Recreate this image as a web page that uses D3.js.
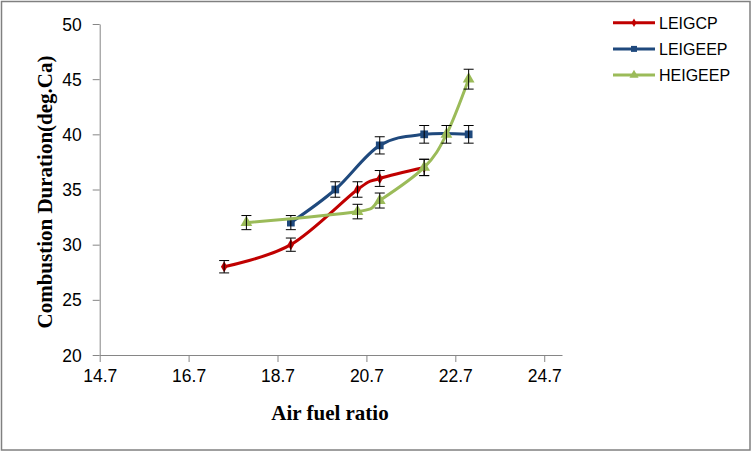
<!DOCTYPE html>
<html>
<head>
<meta charset="utf-8">
<script src="https://cdn.jsdelivr.net/npm/d3@7"></script>
<style>
  body { margin: 0; background: #fff; }
  .tick text { font-family: "Liberation Sans", Arial, sans-serif; font-size: 17.5px; fill: #000; }
  .axis-title { font-family: "Liberation Serif", "Times New Roman", serif; font-weight: bold; font-size: 21px; }
  .legend text { font-family: "Liberation Sans", Arial, sans-serif; font-size: 16px; }
</style>
</head>
<body>
<div class="canvas"></div>
<script>
// data
const seriesNames = ['LEIGCP', 'LEIGEEP', 'HEIGEEP'];
const leigcpX = [17.5, 19, 20.5, 21, 22];
const leigcpY = [28, 30, 35, 36, 37];
const leigeepX = [19, 20, 21, 22, 23];
const leigeepY = [32, 35, 39, 40, 40];
const heigeepX = [18, 20.5, 21, 22, 22.5, 23];
const heigeepY = [32, 33, 34, 37, 40, 45];
const xTicks = [14.7, 16.7, 18.7, 20.7, 22.7, 24.7];
const yTicks = [20, 25, 30, 35, 40, 45, 50];
const errorPercent = 2; // percentage error bars

const colors = ['#C00000', '#1F497D', '#9BBB59'];
const symbols = [d3.symbolDiamond, d3.symbolSquare, d3.symbolTriangle];
const symbolSizes = [36, 60, 60];

const width = 752, height = 452;
const margin = {top: 24, left: 99.7};
const graphWidth = 562 - margin.left;
const graphHeight = 355 - margin.top;

const svg = d3.select('.canvas').append('svg')
    .attr('width', width)
    .attr('height', height);

// outer frame
svg.append('rect')
    .attr('x', 1.5).attr('y', 1.5)
    .attr('width', width - 3.5).attr('height', height - 3.5)
    .attr('fill', '#fff')
    .attr('stroke', '#808080')
    .attr('stroke-width', 1.5);

const graph = svg.append('g')
    .attr('transform', `translate(${margin.left}, ${margin.top})`);

// scales
const x = d3.scaleLinear().domain([14.7, 25.1]).range([0, graphWidth]);
const y = d3.scaleLinear().domain([20, 50]).range([graphHeight, 0]);

// axes
const xAxis = d3.axisBottom(x).tickValues(xTicks).tickFormat(d3.format('.1f'))
    .tickSizeInner(7).tickSizeOuter(0).tickPadding(8);
const yAxis = d3.axisLeft(y).tickValues(yTicks).tickFormat(d3.format('d'))
    .tickSizeInner(7).tickSizeOuter(0).tickPadding(11);

const xAxisGroup = graph.append('g')
    .attr('transform', `translate(0, ${graphHeight})`)
    .call(xAxis);
const yAxisGroup = graph.append('g').call(yAxis);

[xAxisGroup, yAxisGroup].forEach(g => {
    g.select('.domain').attr('stroke', '#868686');
    g.selectAll('.tick line').attr('stroke', '#868686');
});
yAxisGroup.selectAll('.tick text').attr('dy', '0.35em');

// axis titles
svg.append('text')
    .attr('class', 'axis-title')
    .attr('x', 330).attr('y', 420)
    .attr('text-anchor', 'middle')
    .text('Air fuel ratio');

svg.append('text')
    .attr('class', 'axis-title')
    .attr('transform', 'translate(52, 192) rotate(-90)')
    .attr('text-anchor', 'middle')
    .text('Combustion Duration(deg.Ca)');

// series
const series = [
    {name: seriesNames[0], xs: leigcpX, ys: leigcpY},
    {name: seriesNames[1], xs: leigeepX, ys: leigeepY},
    {name: seriesNames[2], xs: heigeepX, ys: heigeepY}
];

const line = d3.line()
    .x(d => x(d.x))
    .y(d => y(d.y))
    .curve(d3.curveCatmullRom.alpha(0));

series.forEach((s, i) => {
    const pts = s.xs.map((v, j) => ({x: v, y: s.ys[j]}));
    const g = graph.append('g');

    g.append('path')
        .attr('d', line(pts))
        .attr('fill', 'none')
        .attr('stroke', colors[i])
        .attr('stroke-width', 3);

    g.selectAll('path.marker')
        .data(pts)
        .enter().append('path')
        .attr('class', 'marker')
        .attr('d', d3.symbol().type(symbols[i]).size(symbolSizes[i]))
        .attr('transform', d => `translate(${x(d.x)}, ${y(d.y)})`)
        .attr('fill', colors[i]);

    // error bars
    const eb = g.selectAll('g.err')
        .data(pts)
        .enter().append('g')
        .attr('class', 'err')
        .attr('stroke', '#000')
        .attr('stroke-width', 1);
    const lo = d => y(d.y * (1 - errorPercent / 100));
    const hi = d => y(d.y * (1 + errorPercent / 100));
    eb.append('line')
        .attr('x1', d => x(d.x)).attr('x2', d => x(d.x))
        .attr('y1', lo).attr('y2', hi);
    eb.append('line')
        .attr('x1', d => x(d.x) - 5).attr('x2', d => x(d.x) + 5)
        .attr('y1', lo).attr('y2', lo);
    eb.append('line')
        .attr('x1', d => x(d.x) - 5).attr('x2', d => x(d.x) + 5)
        .attr('y1', hi).attr('y2', hi);
});

// legend
const legend = svg.append('g').attr('class', 'legend');
series.forEach((s, i) => {
    const ly = 22.7 + i * 26.2;
    legend.append('line')
        .attr('x1', 613).attr('x2', 655)
        .attr('y1', ly).attr('y2', ly)
        .attr('stroke', colors[i])
        .attr('stroke-width', 3);
    legend.append('path')
        .attr('d', d3.symbol().type(symbols[i]).size(symbolSizes[i] * 0.6))
        .attr('transform', `translate(634, ${ly})`)
        .attr('fill', colors[i]);
    legend.append('text')
        .attr('x', 659).attr('y', ly + 6)
        .text(s.name);
});
</script>
</body>
</html>
